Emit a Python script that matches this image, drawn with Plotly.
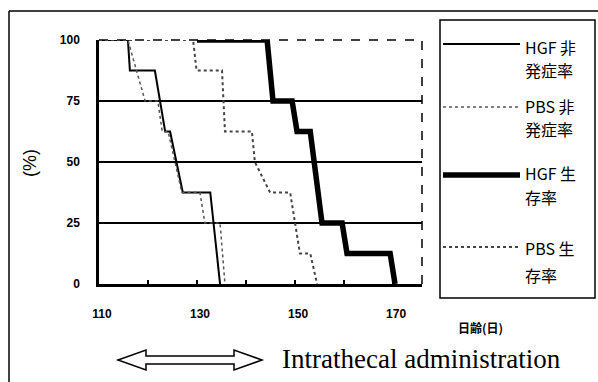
import plotly.graph_objects as go

# ---- data (days of age vs %) ----
hgf_onset_x = [110, 115.9, 116.3, 121.4, 123.5, 124.5, 127.1, 132.7, 134.7]
hgf_onset_y = [100, 100, 87.5, 87.5, 62.5, 62.5, 37.5, 37.5, 0]

pbs_onset_x = [110, 115.9, 119.4, 122.0, 122.9, 124.1, 126.9, 130.6, 131.6, 134.7, 135.7]
pbs_onset_y = [100, 100, 75, 75, 62.5, 62.5, 37.5, 37.5, 25, 25, 0]

hgf_surv_x = [130, 144.3, 145.5, 149.4, 150.4, 153.1, 155.5, 159.6, 160.6, 169.4, 170.4]
hgf_surv_y = [100, 100, 75, 75, 62.5, 62.5, 25, 25, 12.5, 12.5, 0]

pbs_surv_x = [110, 129.2, 129.9, 135.1, 135.7, 141.2, 141.8, 144.9, 149.0, 151.0, 153.1, 154.5]
pbs_surv_y = [100, 100, 87.5, 87.5, 62.5, 62.5, 50, 37.5, 37.5, 12.5, 12.5, 0]

x_tickvals = [110, 120, 130, 140, 150, 160, 170]
x_ticktext = ["110", "", "130", "", "150", "", "170"]
y_tickvals = [0, 25, 50, 75, 100]
y_ticktext = ["0", "25", "50", "75", "100"]

legend_names = [["HGF 非", "発症率"], ["PBS 非", "発症率"], ["HGF 生", "存率"], ["PBS 生", "存率"]]

# ---- layout geometry (pixels) ----
W, H = 598, 382
L, R, T, B = 99, 422, 40, 284


def px(x):
    return (x - L) / (R - L)


def py(y):
    return (B - y) / (B - T)


styles = [
    dict(color="black", width=2, dash="solid"),
    dict(color="#555555", width=1.5, dash="dot"),
    dict(color="black", width=5.5, dash="solid"),
    dict(color="#444444", width=2, dash="dot"),
]

fig = go.Figure()
series = [(hgf_onset_x, hgf_onset_y), (pbs_onset_x, pbs_onset_y),
          (hgf_surv_x, hgf_surv_y), (pbs_surv_x, pbs_surv_y)]
for (sx, sy), st, nm in zip(series, styles, legend_names):
    fig.add_trace(go.Scatter(x=sx, y=sy, mode="lines", line=st,
                             name=" ".join(nm), showlegend=False, hoverinfo="skip"))

shapes = []
annotations = []

# dashed top and right borders of the plot
shapes.append(dict(type="line", xref="paper", yref="paper", x0=0, x1=1, y0=1, y1=1,
                   line=dict(color="black", width=1.5, dash="dash"), layer="below"))
shapes.append(dict(type="line", xref="paper", yref="paper", x0=1, x1=1, y0=0, y1=1,
                   line=dict(color="black", width=1.5, dash="dash")))

# outer frame of the figure (left and top)
shapes.append(dict(type="line", xref="paper", yref="paper", x0=px(9), x1=px(9), y0=py(11), y1=py(382),
                   line=dict(color="black", width=1.5)))
shapes.append(dict(type="line", xref="paper", yref="paper", x0=px(9), x1=px(598), y0=py(11), y1=py(11),
                   line=dict(color="black", width=1.5)))

# legend box
shapes.append(dict(type="rect", xref="paper", yref="paper", x0=px(440), x1=px(595), y0=py(20), y1=py(298),
                   line=dict(color="black", width=1.5)))

sample_y = [44, 107, 175, 247]
text_y = [(47, 70), (106, 129), (173, 197), (248, 275)]
for st, sy, (t1, t2), nm in zip(styles, sample_y, text_y, legend_names):
    shapes.append(dict(type="line", xref="paper", yref="paper", x0=px(443), x1=px(520), y0=py(sy), y1=py(sy),
                       line=st))
    for txt, ty in ((nm[0], t1), (nm[1], t2)):
        annotations.append(dict(xref="paper", yref="paper", x=px(523), y=py(ty), text=txt,
                                showarrow=False, xanchor="left", yanchor="middle",
                                font=dict(family="Noto Sans CJK JP", size=16, color="black")))

# hollow double arrow
pts = [(118, 360), (146, 350), (146, 356), (234, 356), (234, 350), (262, 360),
       (234, 370), (234, 364), (146, 364), (146, 370)]
path = "M " + " L ".join(f"{px(a):.5f},{py(b):.5f}" for a, b in pts) + " Z"
shapes.append(dict(type="path", xref="paper", yref="paper", path=path,
                   line=dict(color="black", width=1.5), fillcolor="white"))

annotations.append(dict(xref="paper", yref="paper", x=px(280), y=py(359), text="Intrathecal administration",
                        showarrow=False, xanchor="left", yanchor="middle",
                        font=dict(family="Liberation Serif", size=27, color="black")))
annotations.append(dict(xref="paper", yref="paper", x=px(480), y=py(327), text="<b>日齢(日)</b>",
                        showarrow=False, xanchor="center", yanchor="middle",
                        font=dict(family="Noto Sans CJK JP", size=12, color="black")))
annotations.append(dict(xref="paper", yref="paper", x=px(30), y=py(163), text="(%)", textangle=-90,
                        showarrow=False, xanchor="center", yanchor="middle",
                        font=dict(family="Liberation Sans", size=18, color="black")))

fig.update_layout(
    width=W, height=H, autosize=False,
    margin=dict(l=L, r=W - R, t=T, b=H - B, pad=0),
    paper_bgcolor="white", plot_bgcolor="white",
    shapes=shapes, annotations=annotations, showlegend=False,
    xaxis=dict(range=[110, 175.9], tickvals=x_tickvals, ticktext=x_ticktext,
               ticks="inside", ticklen=4, tickwidth=1.5, tickcolor="black",
               showline=True, linecolor="black", linewidth=2.5, showgrid=False, zeroline=False,
               ticklabelstandoff=17, ticklabelshift=3,
               tickfont=dict(family="Liberation Sans", size=12, color="black", weight="bold")),
    yaxis=dict(range=[0, 100], tickvals=y_tickvals, ticktext=y_ticktext,
               ticks="", showline=True, linecolor="black", linewidth=2.5,
               showgrid=True, gridcolor="black", gridwidth=1.5, zeroline=False,
               ticklabelstandoff=14,
               tickfont=dict(family="Liberation Sans", size=12, color="black", weight="bold")),
)

fig.write_html("out.html", config={"displayModeBar": False},
               post_script="document.body.style.margin='0px';")
